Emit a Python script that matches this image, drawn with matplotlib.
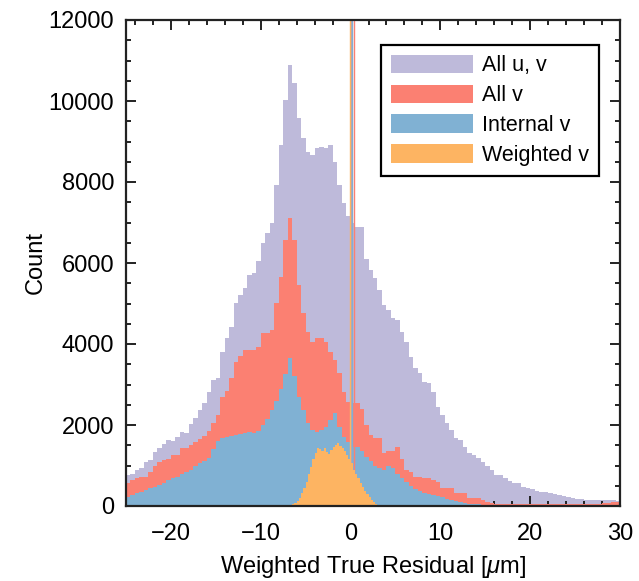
import numpy as np
import matplotlib
matplotlib.use("Agg")
import matplotlib.pyplot as plt
from matplotlib.ticker import MultipleLocator

plt.rcParams['font.family'] = ['Liberation Sans', 'DejaVu Sans']
plt.rcParams['mathtext.fontset'] = 'custom'
plt.rcParams['mathtext.rm'] = 'Liberation Sans'
plt.rcParams['mathtext.it'] = 'Liberation Sans:italic'

# Histogram binning (micrometres)
x_min, x_max = -25.0, 30.0
coarse_width = 0.5
fine_lo, fine_hi, fine_width = -8.0, 4.0, 0.25

# Counts per 0.5 um bin, from -25 to 30
all_uv = [760, 800, 890, 940, 1090, 1130, 1330, 1430, 1530, 1630,
          1600, 1700, 1830, 1800, 2020, 2170, 2370, 2540, 2810, 3110,
          3160, 3800, 4150, 4420, 5010, 5200, 5380, 5700, 5750, 6040,
          6500, 6750, 7000, 7930, 8920, 10030, 10890, 10450, 9580, 9090,
          8750, 8670, 8850, 8870, 8850, 8920, 8500, 7930, 7490, 7150,
          7000, 6900, 6900, 6100, 5830, 5630, 5330, 4960, 4840, 4640,
          4590, 4300, 4050, 3680, 3400, 3280, 3060, 3040, 2820, 2450,
          2250, 2050, 1880, 1680, 1630, 1460, 1310, 1260, 1190, 1090,
          1000, 890, 770, 760, 690, 620, 580, 560, 470, 450,
          420, 380, 350, 350, 320, 300, 270, 240, 220, 190,
          180, 170, 160, 150, 150, 150, 150, 155, 160, 130]

all_v = [570, 640, 680, 720, 720, 840, 1000, 1080, 1130, 1150,
         1260, 1270, 1430, 1420, 1500, 1580, 1650, 1720, 1850, 2050,
         2250, 2700, 2850, 3150, 3550, 3700, 3850, 3850, 3850, 3930,
         4270, 4270, 4350, 5010, 5650, 6570, 7110, 6570, 5460, 4770,
         4300, 4050, 4150, 4150, 4050, 3800, 3600, 3280, 2820, 2570,
         2550, 2550, 2400, 2000, 1750, 1680, 1680, 1300, 1350, 1350,
         1450, 1150, 900, 840, 720, 720, 700, 700, 650, 600,
         440, 440, 440, 320, 320, 320, 200, 200, 190, 150,
         90, 70, 60, 50, 45, 45, 40, 40, 40, 40,
         40, 40, 40, 40, 40, 40, 40, 45, 45, 45,
         45, 50, 50, 50, 55, 60, 70, 80, 90, 100]

internal_v = [230, 280, 310, 350, 390, 440, 480, 530, 580, 640,
              680, 720, 780, 840, 900, 1000, 1050, 1100, 1190, 1400,
              1600, 1680, 1700, 1720, 1750, 1780, 1800, 1820, 1800, 1850,
              2000, 2150, 2370, 2600, 2900, 3250, 3650, 3200, 2690, 2370,
              2050, 1880, 1830, 1870, 1950, 2120, 2300, 1950, 1700, 1580,
              1450, 1450, 1350, 1200, 1100, 1000, 950, 900, 1000, 950,
              800, 700, 600, 500, 430, 380, 330, 300, 270, 240,
              210, 180, 150, 130, 100, 80, 60, 50, 40, 30,
              20, 10, 10, 5, 5, 0, 0, 0, 0, 0,
              0, 0, 0, 0, 0, 0, 0, 0, 0, 0,
              0, 0, 0, 0, 0, 0, 0, 0, 0, 0]

# Counts per 0.25 um bin, from -8 to 4
weighted_v = [0, 5, 5, 10, 15, 25, 40, 70, 120, 200,
              320, 450, 600, 780, 960, 1150, 1320, 1420, 1400, 1370,
              1420, 1330, 1290, 1380, 1460, 1500, 1550, 1470, 1420, 1350,
              1250, 1150, 1050, 900, 800, 680, 570, 470, 380, 290,
              210, 140, 90, 50, 25, 10, 5, 0]

# Mean residual of each sample
mean_all_uv = 0.03
mean_all_v = 0.33
mean_internal_v = 0.18
mean_weighted_v = -0.02

labels = ['All u, v', 'All v', 'Internal v', 'Weighted v']
colors = ['#bebada', '#fb8072', '#80b1d3', '#fdb462']

coarse_edges = np.arange(x_min, x_max + coarse_width / 2, coarse_width)
fine_edges = np.arange(fine_lo, fine_hi + fine_width / 2, fine_width)

fig = plt.figure(figsize=(6.39, 5.81), dpi=100)
ax = fig.add_axes([126 / 639, 1 - 506 / 581, 494 / 639, 486 / 581])

ax.stairs(all_uv, coarse_edges, fill=True, color=colors[0], label=labels[0], zorder=1)
ax.stairs(all_v, coarse_edges, fill=True, color=colors[1], label=labels[1], zorder=2)
ax.stairs(internal_v, coarse_edges, fill=True, color=colors[2], label=labels[2], zorder=3)

ax.axvline(mean_all_uv, color='#a8a4c8', lw=1.0, zorder=3.5)
ax.axvline(mean_internal_v, color=colors[2], lw=1.0, zorder=3.6)
ax.axvline(mean_all_v, color=colors[1], lw=1.0, zorder=3.7)

ax.stairs(weighted_v, fine_edges, fill=True, color=colors[3], label=labels[3], zorder=4)
ax.axvline(mean_weighted_v, color=colors[3], lw=1.0, zorder=4.5)

ax.set_xlim(x_min, x_max)
ax.set_ylim(0, 12000)

ax.xaxis.set_major_locator(MultipleLocator(10))
ax.xaxis.set_minor_locator(MultipleLocator(2))
ax.yaxis.set_major_locator(MultipleLocator(2000))
ax.yaxis.set_minor_locator(MultipleLocator(500))

ax.tick_params(which='both', direction='in', top=True, right=True,
               width=1.4, colors='#222222', labelcolor='black', labelsize=17)
ax.tick_params(which='major', length=7)
ax.tick_params(axis='y', which='major', pad=8.5)
ax.tick_params(axis='x', which='major', pad=12)
ax.tick_params(which='minor', length=3.5)
for s in ax.spines.values():
    s.set_linewidth(1.6)
    s.set_color('#222222')
    s.set_zorder(10)

ax.set_xlabel(r'Weighted True Residual [$\mu$m]', fontsize=17, labelpad=7)
ax.set_ylabel('Count', fontsize=17, labelpad=1)

leg = ax.legend(loc='upper right', bbox_to_anchor=(0.957, 0.9486),
                borderaxespad=0, fontsize=15.5, fancybox=False,
                handlelength=3.85, handleheight=0.95, handletextpad=0.4,
                labelspacing=0.38, borderpad=0.45)
leg.get_frame().set_edgecolor('black')
leg.get_frame().set_linewidth(1.6)
leg.get_frame().set_alpha(1)
leg.set_zorder(20)

fig.savefig('out.png', dpi=100)
